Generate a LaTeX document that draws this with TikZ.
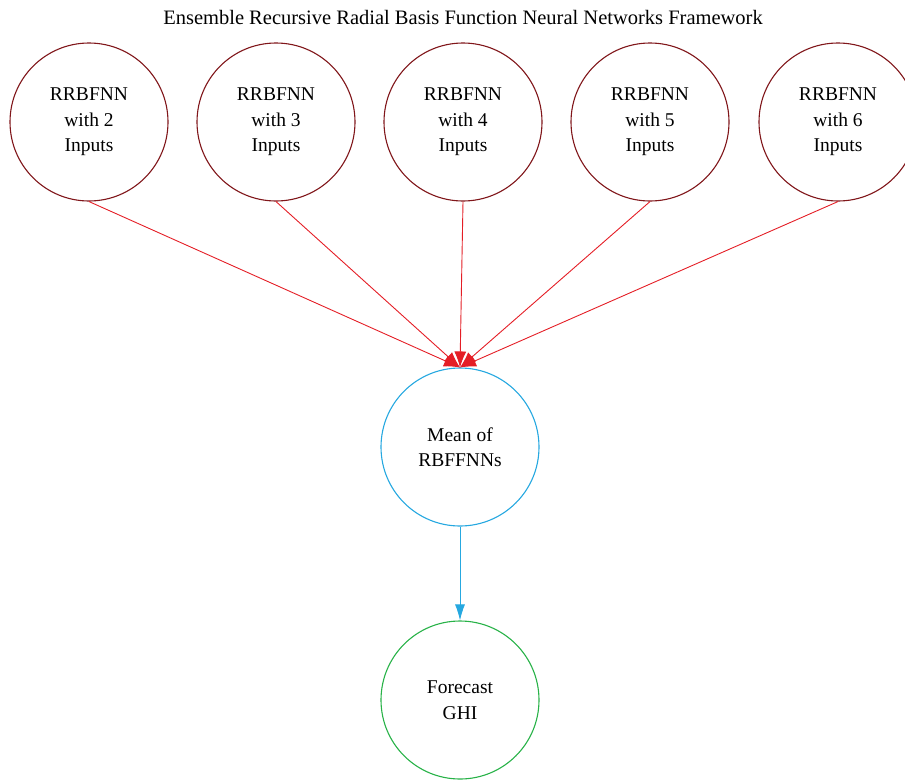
\documentclass[tikz,border=0pt]{standalone}
\usepackage{fontspec}
\setmainfont{Liberation Serif}
\usepackage{tikz}
\usetikzlibrary{arrows.meta,positioning}
\definecolor{netred}{RGB}{128,22,26}
\definecolor{linkred}{RGB}{228,30,38}
\definecolor{meanblue}{RGB}{38,168,224}
\definecolor{fcgreen}{RGB}{40,178,72}
\tikzstyle{network} = [draw=netred,line width=1.1pt,circle,minimum size=158pt,inner sep=0pt,align=center,font=\fontsize{19.5}{25.5}\selectfont]
\tikzstyle{combiner} = [network,draw=meanblue]
\tikzstyle{output} = [network,draw=fcgreen]
\tikzstyle{feeds} = [draw=linkred,line width=0.9pt,arrows={-Latex[length=16pt,width=12pt]}]
\tikzstyle{passes} = [draw=meanblue,line width=0.9pt,arrows={-Latex[length=16pt,width=10pt]}]

\begin{document}
\begin{tikzpicture}[x=1pt,y=1pt]
  \useasboundingbox (0,0) rectangle (905,-780);
  \node (title) at (463,-17) {\fontsize{20.5}{22}\selectfont Ensemble Recursive Radial Basis Function Neural Networks Framework};

  \node (n2)[network] at (89,-122) {RRBFNN\\with 2\\Inputs};
  \node (n3)[network] at (276,-122) {RRBFNN\\with 3\\Inputs};
  \node (n4)[network] at (463,-122) {RRBFNN\\with 4\\Inputs};
  \node (n5)[network] at (650,-122) {RRBFNN\\with 5\\Inputs};
  \node (n6)[network] at (838,-122) {RRBFNN\\with 6\\Inputs};

  \node (mean)[combiner] at (460,-447) {Mean of\\RBFFNNs};
  \node (ghi)[output] at (460,-700) {Forecast\\GHI};

  \foreach \n in {n2,n3,n4,n5,n6}
    \draw[feeds] (\n.south) -- (mean.north);
  \draw[passes] (mean.south) -- (ghi.north);
\end{tikzpicture}
\end{document}
